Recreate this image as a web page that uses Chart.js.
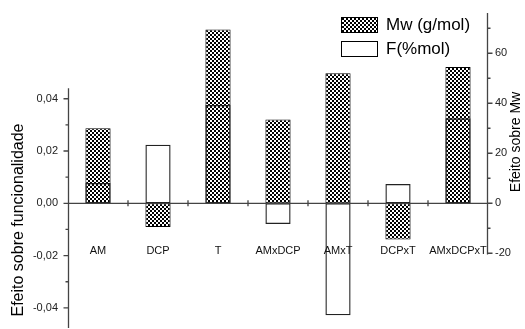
<!DOCTYPE html>
<html>
<head>
<meta charset="utf-8">
<script src="https://cdn.jsdelivr.net/npm/chart.js@4"></script>
<style>
html,body{margin:0;padding:0;background:#fff;}
#wrap{width:525px;height:329px;}
</style>
</head>
<body>
<div id="wrap"><canvas id="c" width="525" height="329"></canvas></div>
<script>
const categories = ['AM', 'DCP', 'T', 'AMxDCP', 'AMxT', 'DCPxT', 'AMxDCPxT'];
const mwValues = [30, -9.5, 69.5, 33.5, 52, -14.5, 54.5];
const fValues = [0.0078, 0.0224, 0.0376, -0.0079, -0.0428, 0.0074, 0.0325];
const leftTicks = [-0.04, -0.02, 0, 0.02, 0.04];
const leftMinorTicks = [-0.03, -0.01, 0.01, 0.03];
const rightTicks = [-20, 0, 20, 40, 60];
const rightMinorTicks = [-10, 10, 30, 50, 70];
const seriesNames = ['Mw (g/mol)', 'F(%mol)'];
const leftTitle = 'Efeito sobre funcionalidade';
const rightTitle = 'Efeito sobre Mw';

const FONT = '"Liberation Sans", Arial, sans-serif';

function makePattern() {
  const p = document.createElement('canvas');
  p.width = 4; p.height = 4;
  const g = p.getContext('2d');
  g.fillStyle = '#fff';
  g.fillRect(0, 0, 4, 4);
  g.fillStyle = '#000';
  g.fillRect(0, 0, 2, 2);
  g.fillRect(2, 2, 2, 2);
  return document.getElementById('c').getContext('2d').createPattern(p, 'repeat');
}
const hatch = makePattern();

function fmtComma(v) {
  return v.toFixed(2).replace('.', ',').replace('-0,00', '0,00');
}

function zeroPad(s) {
  s.paddingTop = 0; s.paddingBottom = 0; s.paddingLeft = 0; s.paddingRight = 0;
}

const axesPlugin = {
  id: 'axesPlugin',
  afterDatasetsDraw(chart) {
    const ctx = chart.ctx;
    const x = chart.scales.x, y = chart.scales.y, y1 = chart.scales.y1;
    const area = chart.chartArea;
    ctx.save();
    ctx.strokeStyle = '#444';
    ctx.lineWidth = 1.3;
    const lx = area.left + 0.5;
    ctx.beginPath();
    ctx.moveTo(lx, y.getPixelForValue(0.044));
    ctx.lineTo(lx, area.bottom);
    leftTicks.forEach(v => { const py = y.getPixelForValue(v); ctx.moveTo(lx - 5, py); ctx.lineTo(lx, py); });
    leftMinorTicks.forEach(v => { const py = y.getPixelForValue(v); ctx.moveTo(lx - 3, py); ctx.lineTo(lx, py); });
    const rx = area.right - 0.5;
    ctx.moveTo(rx, area.top);
    ctx.lineTo(rx, y1.getPixelForValue(-20.5));
    rightTicks.forEach(v => { const py = y1.getPixelForValue(v); ctx.moveTo(rx, py); ctx.lineTo(rx + 5, py); });
    rightMinorTicks.forEach(v => { const py = y1.getPixelForValue(v); ctx.moveTo(rx, py); ctx.lineTo(rx + 3, py); });
    const zy = y.getPixelForValue(0);
    ctx.moveTo(area.left, zy);
    ctx.lineTo(area.right, zy);
    for (let i = 0; i < categories.length - 1; i++) {
      const bx = (x.getPixelForValue(i) + x.getPixelForValue(i + 1)) / 2;
      ctx.moveTo(bx, zy - 3);
      ctx.lineTo(bx, zy + 3);
    }
    ctx.stroke();
    ctx.restore();
  },
  afterDraw(chart) {
    const ctx = chart.ctx;
    ctx.save();
    ctx.fillStyle = hatch;
    ctx.fillRect(341, 17, 37, 16);
    ctx.strokeStyle = '#000';
    ctx.lineWidth = 1;
    ctx.strokeRect(341.5, 17.5, 36, 15);
    ctx.fillStyle = '#fff';
    ctx.fillRect(341, 41, 37, 16);
    ctx.strokeRect(341.5, 41.5, 36, 15);
    ctx.fillStyle = '#000';
    ctx.font = '17px ' + FONT;
    ctx.textAlign = 'left';
    ctx.textBaseline = 'middle';
    ctx.fillText(seriesNames[0], 386, 25);
    ctx.fillText(seriesNames[1], 386, 49);
    ctx.font = '16px ' + FONT;
    ctx.textAlign = 'center';
    ctx.save();
    ctx.translate(19, 220);
    ctx.rotate(-Math.PI / 2);
    ctx.fillText(leftTitle, 0, 0);
    ctx.restore();
    ctx.font = '14px ' + FONT;
    ctx.save();
    ctx.translate(516, 142);
    ctx.rotate(-Math.PI / 2);
    ctx.fillText(rightTitle, 0, 0);
    ctx.restore();
    ctx.restore();
  }
};

new Chart(document.getElementById('c'), {
  type: 'bar',
  data: {
    labels: categories,
    datasets: [
      {
        label: seriesNames[0],
        data: mwValues,
        yAxisID: 'y1',
        backgroundColor: hatch,
        borderColor: '#000',
        borderWidth: 1,
        borderSkipped: false,
        order: 2,
        grouped: false,
        categoryPercentage: 1,
        barPercentage: 0.42
      },
      {
        label: seriesNames[1],
        data: fValues,
        yAxisID: 'y',
        backgroundColor: 'rgba(255,255,255,0)',
        borderColor: '#222',
        borderWidth: 1.3,
        borderSkipped: false,
        order: 1,
        grouped: false,
        categoryPercentage: 1,
        barPercentage: 0.42
      }
    ]
  },
  options: {
    responsive: false,
    animation: false,
    layout: { padding: { top: 13, bottom: 1, left: 0, right: 0 } },
    plugins: { legend: { display: false }, tooltip: { enabled: false } },
    scales: {
      x: {
        position: { y: 0 },
        offset: true,
        grid: { display: false, drawTicks: false },
        border: { display: false },
        ticks: { color: '#111', font: { size: 11, family: FONT }, padding: 41, maxRotation: 0, autoSkip: false },
        afterFit(s) { s.height = 0; zeroPad(s); }
      },
      y: {
        position: 'left',
        min: -0.0477,
        max: 0.0728,
        grid: { display: false, drawTicks: false },
        border: { display: false },
        afterBuildTicks(s) { s.ticks = leftTicks.map(v => ({ value: v })); },
        ticks: { color: '#222', font: { size: 11, family: FONT }, padding: 10, callback: v => fmtComma(v) },
        afterFit(s) { s.width = 68; zeroPad(s); }
      },
      y1: {
        position: 'right',
        min: -49.9,
        max: 76.1,
        grid: { display: false, drawTicks: false },
        border: { display: false },
        afterBuildTicks(s) { s.ticks = rightTicks.map(v => ({ value: v })); },
        ticks: { color: '#222', font: { size: 11, family: FONT }, padding: 7, callback: v => String(v) },
        afterFit(s) { s.width = 37; zeroPad(s); }
      }
    }
  },
  plugins: [axesPlugin]
});
</script>
</body>
</html>
